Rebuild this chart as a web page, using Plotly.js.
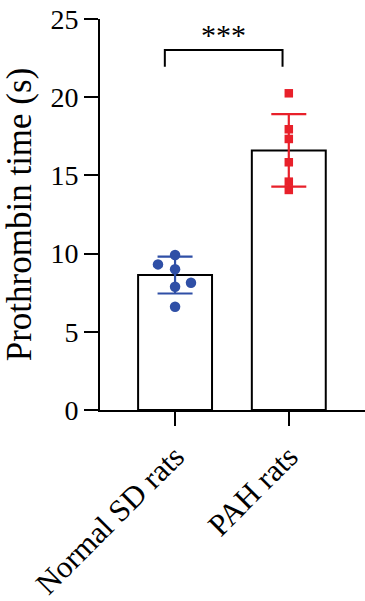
<!DOCTYPE html>
<html>
<head>
<meta charset="utf-8">
<script src="https://cdn.plot.ly/plotly-3.0.1.min.js"></script>
<style>html,body{margin:0;padding:0;background:#fff;}#chart{width:365px;height:601px;}</style>
</head>
<body>
<div id="chart"></div>
<script>
const categories = ["Normal SD rats", "PAH rats"];
const means = [8.63, 16.6];
const sds = [1.18, 2.32];
const normalValues = [9.91, 9.31, 9.0, 8.14, 7.88, 6.6];
const normalJitter = [0, -0.15, 0, 0.14, 0, 0];
const pahValues = [20.25, 17.95, 17.33, 15.84, 14.6, 14.07];
const pahJitter = [0, 0, 0, 0, 0, 0];
const yTicks = [0, 5, 10, 15, 20, 25];
const sigLabel = "***";
const bracket = {x0: -0.09, x1: 0.945, yTop: 23.02, yBottom: 21.95, labelY: 24.0};

const blue = "#2f4fa6";
const red = "#e8202a";
const font = "Liberation Serif, Times New Roman, serif";
const xIdx = categories.map((c, i) => i);

const traces = [
  {
    type: "bar", x: xIdx, y: means, width: 0.65,
    marker: {color: "#ffffff", line: {color: "#000000", width: 2}},
    hoverinfo: "skip"
  },
  {
    type: "scatter", mode: "markers", x: [0], y: [means[0]],
    marker: {color: "rgba(0,0,0,0)", size: 1},
    error_y: {type: "data", array: [sds[0]], visible: true, color: blue, thickness: 2.2, width: 17.5}
  },
  {
    type: "scatter", mode: "markers", x: [1], y: [means[1]],
    marker: {color: "rgba(0,0,0,0)", size: 1},
    error_y: {type: "data", array: [sds[1]], visible: true, color: red, thickness: 2.2, width: 17.5}
  },
  {
    type: "scatter", mode: "markers",
    x: normalValues.map((v, i) => 0 + normalJitter[i]), y: normalValues,
    marker: {color: blue, size: 10.5, symbol: "circle"}
  },
  {
    type: "scatter", mode: "markers",
    x: pahValues.map((v, i) => 1 + pahJitter[i]), y: pahValues,
    marker: {color: red, size: 8.5, symbol: "square"}
  }
];

const layout = {
  width: 365, height: 601,
  margin: {l: 100, r: 0, t: 19, b: 191},
  paper_bgcolor: "#fff", plot_bgcolor: "#fff",
  showlegend: false,
  bargap: 0,
  font: {family: font, size: 28, color: "#000"},
  xaxis: {
    range: [-0.66, 1.67],
    tickmode: "array", tickvals: xIdx, ticktext: categories,
    tickangle: -45,
    ticks: "outside", ticklen: 14, tickwidth: 2, tickcolor: "#000",
    showline: true, linecolor: "#000", linewidth: 2,
    showgrid: false, zeroline: false,
    tickfont: {family: font, size: 31, color: "#000"}
  },
  yaxis: {
    range: [0, 25],
    tickmode: "array", tickvals: yTicks,
    ticks: "outside", ticklen: 14, tickwidth: 2, tickcolor: "#000",
    showline: true, linecolor: "#000", linewidth: 2,
    showgrid: false, zeroline: false,
    tickfont: {family: font, size: 28, color: "#000"},
    title: {text: "Prothrombin time (s)", font: {family: font, size: 35, color: "#000"}, standoff: 12}
  },
  shapes: [
    {type: "path", xref: "x", yref: "y",
     path: `M ${bracket.x0},${bracket.yBottom} L ${bracket.x0},${bracket.yTop} L ${bracket.x1},${bracket.yTop} L ${bracket.x1},${bracket.yBottom}`,
     line: {color: "#000", width: 2}}
  ],
  annotations: [
    {xref: "x", yref: "y", x: (bracket.x0 + bracket.x1) / 2, y: bracket.labelY,
     text: sigLabel, showarrow: false, yanchor: "middle",
     font: {family: font, size: 30, color: "#000"}}
  ]
};

Plotly.newPlot("chart", traces, layout, {displayModeBar: false, staticPlot: true});
</script>
</body>
</html>
